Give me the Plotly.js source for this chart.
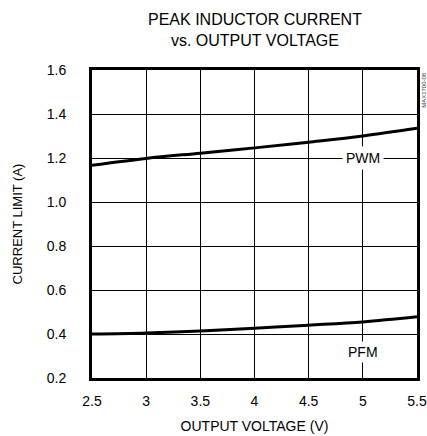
<!DOCTYPE html>
<html>
<head>
<meta charset="utf-8">
<script src="https://cdn.plot.ly/plotly-3.0.1.min.js"></script>
<style>html,body{margin:0;padding:0;background:#fff;}#chart{width:427px;height:436px;}</style>
</head>
<body>
<div id="chart"></div>
<script>
const outputVoltage = [2.5, 3, 3.5, 4, 4.5, 5, 5.5];
const pwmCurrent = [1.167, 1.198, 1.222, 1.246, 1.272, 1.300, 1.335];
const pfmCurrent = [0.400, 0.405, 0.414, 0.426, 0.440, 0.455, 0.478];
const xTicks = [2.5, 3, 3.5, 4, 4.5, 5, 5.5];
const xTickLabels = ["2.5", "3", "3.5", "4", "4.5", "5", "5.5"];
const yTicks = [0.2, 0.4, 0.6, 0.8, 1.0, 1.2, 1.4, 1.6];
const yTickLabels = ["0.2", "0.4", "0.6", "0.8", "1.0", "1.2", "1.4", "1.6"];
const seriesNames = ["PWM", "PFM"];
const labelPos = [[5, 1.2], [5, 0.32]];
const chartTitle = "PEAK INDUCTOR CURRENT<br>vs. OUTPUT VOLTAGE";

const font = "Liberation Sans Narrow, Liberation Sans, Arial, sans-serif";
const traces = [
  {x: outputVoltage, y: pwmCurrent, name: seriesNames[0], mode: "lines", line: {color: "#000", width: 3, shape: "spline"}},
  {x: outputVoltage, y: pfmCurrent, name: seriesNames[1], mode: "lines", line: {color: "#000", width: 3, shape: "spline"}}
];
const layout = {
  width: 427, height: 436,
  margin: {l: 92, r: 10, t: 70, b: 58},
  paper_bgcolor: "#fff", plot_bgcolor: "#fff",
  showlegend: false,
  font: {family: font, color: "#000", size: 14},
  xaxis: {
    range: [2.5, 5.5], tickvals: xTicks, ticktext: xTickLabels, ticks: "",
    showgrid: true, gridcolor: "#000", gridwidth: 1, zeroline: false,
    showline: true, linecolor: "#000", linewidth: 3, mirror: true,
    ticklabelstandoff: 8,
    title: {text: "OUTPUT VOLTAGE (V)", standoff: 14, font: {family: font, size: 14}},
    tickfont: {family: font, size: 14}
  },
  yaxis: {
    range: [0.2, 1.6], tickvals: yTicks, ticktext: yTickLabels, ticks: "",
    showgrid: true, gridcolor: "#000", gridwidth: 1, zeroline: false,
    showline: true, linecolor: "#000", linewidth: 3, mirror: true,
    ticklabelstandoff: 20,
    title: {text: "CURRENT LIMIT (A)", standoff: 22, font: {family: font, size: 13}},
    tickfont: {family: font, size: 14}
  },
  annotations: [
    {xref: "paper", yref: "paper", x: 0.5, y: 1.13, xanchor: "center", yanchor: "middle", text: chartTitle, showarrow: false, font: {family: font, size: 16}},
    {x: labelPos[0][0], y: labelPos[0][1], text: seriesNames[0], showarrow: false, bgcolor: "#fff", borderpad: 3, font: {family: font, size: 14}},
    {x: labelPos[1][0], y: labelPos[1][1], text: seriesNames[1], showarrow: false, bgcolor: "#fff", borderpad: 2, font: {family: font, size: 14}},
    {xref: "paper", yref: "paper", x: 1.021, y: 1.0, xanchor: "center", yanchor: "top", text: "MAX1700-08", textangle: -90, showarrow: false, font: {family: font, size: 6, color: "#333"}}
  ]
};
Plotly.newPlot("chart", traces, layout, {displayModeBar: false, staticPlot: true});
</script>
</body>
</html>
